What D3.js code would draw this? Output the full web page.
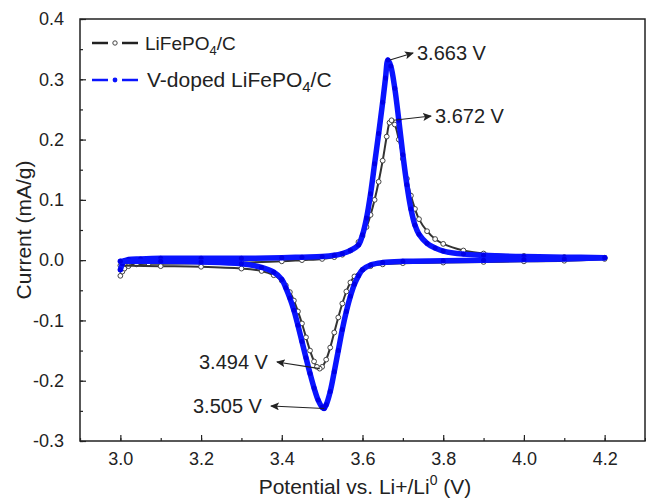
<!DOCTYPE html>
<html>
<head>
<meta charset="utf-8">
<script src="https://cdn.jsdelivr.net/npm/d3@7"></script>
<style>
body { margin: 0; background: #fff; }
text { font-family: "Liberation Sans", Arial, sans-serif; fill: #222; }
</style>
</head>
<body>
<script>
// potential (V), current (mA/g)
var blueAnodic = [[3.000,-0.016],[3.005,-0.006],[3.01,-0.001],[3.02,0.001],[3.05,0.002],[3.1,0.003],[3.2,0.003],[3.3,0.003],[3.4,0.004],[3.45,0.005],[3.5,0.006],[3.53,0.008],[3.55,0.011],[3.57,0.016],[3.59,0.025],[3.60,0.042],[3.61,0.07],[3.62,0.11],[3.63,0.16],[3.64,0.21],[3.65,0.262],[3.657,0.302],[3.663,0.332],[3.67,0.322],[3.68,0.285],[3.69,0.232],[3.70,0.175],[3.71,0.125],[3.72,0.085],[3.73,0.058],[3.74,0.043],[3.76,0.028],[3.78,0.02],[3.80,0.015],[3.85,0.01],[3.9,0.008],[4.0,0.006],[4.1,0.005],[4.2,0.004]];
var blueCathodic = [[4.2,0.004],[4.1,0.002],[4.0,0.001],[3.9,0.0],[3.8,-0.001],[3.7,-0.002],[3.65,-0.004],[3.62,-0.008],[3.60,-0.016],[3.59,-0.026],[3.58,-0.04],[3.57,-0.06],[3.56,-0.085],[3.55,-0.115],[3.54,-0.15],[3.53,-0.185],[3.52,-0.218],[3.51,-0.24],[3.505,-0.246],[3.50,-0.244],[3.49,-0.232],[3.48,-0.212],[3.47,-0.188],[3.46,-0.162],[3.45,-0.135],[3.44,-0.108],[3.43,-0.083],[3.42,-0.063],[3.41,-0.046],[3.40,-0.032],[3.38,-0.02],[3.35,-0.012],[3.3,-0.006],[3.2,-0.003],[3.1,-0.002],[3.0,-0.002]];
var blackAnodic = [[3.0,-0.026],[3.005,-0.019],[3.01,-0.014],[3.02,-0.01],[3.04,-0.007],[3.07,-0.006],[3.1,-0.006],[3.2,-0.005],[3.3,-0.004],[3.4,-0.002],[3.45,0.0],[3.5,0.002],[3.53,0.005],[3.55,0.009],[3.57,0.016],[3.59,0.03],[3.60,0.04],[3.61,0.055],[3.62,0.075],[3.63,0.1],[3.64,0.13],[3.65,0.165],[3.66,0.205],[3.667,0.228],[3.672,0.232],[3.68,0.225],[3.69,0.2],[3.70,0.168],[3.71,0.135],[3.72,0.107],[3.73,0.085],[3.74,0.068],[3.76,0.048],[3.78,0.035],[3.80,0.027],[3.85,0.016],[3.9,0.011],[4.0,0.007],[4.1,0.005],[4.2,0.004]];
var blackCathodic = [[4.2,0.002],[4.1,-0.001],[4.0,-0.002],[3.9,-0.003],[3.8,-0.004],[3.7,-0.005],[3.65,-0.007],[3.62,-0.01],[3.60,-0.016],[3.58,-0.027],[3.57,-0.037],[3.56,-0.052],[3.55,-0.072],[3.54,-0.095],[3.53,-0.12],[3.52,-0.145],[3.51,-0.165],[3.50,-0.177],[3.494,-0.18],[3.487,-0.177],[3.48,-0.168],[3.47,-0.15],[3.46,-0.128],[3.45,-0.105],[3.44,-0.085],[3.43,-0.067],[3.42,-0.053],[3.41,-0.042],[3.40,-0.034],[3.38,-0.025],[3.35,-0.018],[3.3,-0.014],[3.2,-0.011],[3.1,-0.01],[3.0,-0.009]];

var xTicks = [3.0, 3.2, 3.4, 3.6, 3.8, 4.0, 4.2];
var yTicks = [-0.3, -0.2, -0.1, 0.0, 0.1, 0.2, 0.3, 0.4];

// peak labels: [V, current, label, text x, text y]
var peaks = [[3.663, 0.332, "3.663 V", 417, 53], [3.672, 0.232, "3.672 V", 435, 116],
             [3.494, -0.18, "3.494 V", 199, 362], [3.505, -0.246, "3.505 V", 193, 406]];

var w = 646, h = 498;
var pL = 80, pR = 645, pT = 19, pB = 441;

var svg = d3.select("body").append("svg")
  .attr("width", w)
  .attr("height", h);

var x = d3.scaleLinear().domain([2.9, 4.3]).range([pL, pR]);
var y = d3.scaleLinear().domain([-0.3, 0.4]).range([pB, pT]);

//arrow head
svg.append("defs").append("marker")
  .attr("id", "arrow")
  .attr("refX", 8)
  .attr("refY", 4)
  .attr("markerWidth", 10)
  .attr("markerHeight", 8)
  .attr("markerUnits", "userSpaceOnUse")
  .attr("orient", "auto")
  .append("path")
  .attr("d", "M 0 0 L 9 4 L 0 8 L 2 4 Z")
  .style("fill", "#222");

var line = d3.line()
  .x(function(d) { return x(d[0]); })
  .y(function(d) { return y(d[1]); })
  .curve(d3.curveCatmullRom);

// black series
[blackAnodic, blackCathodic].forEach(function(s) {
  svg.append("path")
    .attr("d", line(s))
    .attr("fill", "none")
    .attr("stroke", "#333")
    .attr("stroke-width", 2);
  svg.selectAll(null).data(s).enter().append("circle")
    .attr("cx", function(d) { return x(d[0]); })
    .attr("cy", function(d) { return y(d[1]); })
    .attr("r", 2.4)
    .attr("fill", "#fff")
    .attr("stroke", "#444")
    .attr("stroke-width", 1);
});

// blue series
[blueAnodic, blueCathodic].forEach(function(s) {
  svg.append("path")
    .attr("d", line(s))
    .attr("fill", "none")
    .attr("stroke", "#0a14ff")
    .attr("stroke-width", 5.5)
    .attr("stroke-linecap", "round")
    .attr("stroke-linejoin", "round");
  svg.selectAll(null).data(s).enter().append("circle")
    .attr("cx", function(d) { return x(d[0]); })
    .attr("cy", function(d) { return y(d[1]); })
    .attr("r", 2.5)
    .attr("fill", "#0000e6");
});

// frame
svg.append("rect")
  .attr("x", pL).attr("y", pT)
  .attr("width", pR - pL).attr("height", pB - pT)
  .attr("fill", "none")
  .attr("stroke", "#222")
  .attr("stroke-width", 1.5);

var fmt = function(v) { return d3.format(".1f")(v).replace("\u2212", "-"); };

// axes
var xAxis = svg.append("g")
  .attr("transform", "translate(0," + pB + ")")
  .call(d3.axisBottom(x).tickValues(d3.range(2.9, 4.31, 0.1).map(function(v) { return +v.toFixed(1); }))
    .tickSize(-3).tickFormat(""));
xAxis.append("g").call(d3.axisBottom(x).tickValues(xTicks).tickSize(-6).tickPadding(11).tickFormat(fmt));

var yAxis = svg.append("g")
  .attr("transform", "translate(" + pL + ",0)")
  .call(d3.axisLeft(y).tickValues(d3.range(-0.3, 0.41, 0.05).map(function(v) { return +v.toFixed(2); }))
    .tickSize(-3).tickFormat(""));
yAxis.append("g").call(d3.axisLeft(y).tickValues(yTicks).tickSize(-6).tickPadding(16).tickFormat(fmt));
svg.selectAll(".domain").remove();

svg.selectAll(".tick line").attr("stroke", "#222").attr("stroke-width", 1.2);
svg.selectAll(".tick text")
  .style("font-family", "'Liberation Sans', Arial, sans-serif")
  .style("font-size", "18px")
  .attr("fill", "#222");

// axis titles
svg.append("text")
  .attr("transform", "translate(31," + (pT + pB) / 2 + ") rotate(-90)")
  .attr("text-anchor", "middle")
  .style("font-size", "21px")
  .text("Current (mA/g)");

var xt = svg.append("text")
  .attr("x", 365).attr("y", 494)
  .attr("text-anchor", "middle")
  .style("font-size", "21px");
xt.append("tspan").text("Potential vs. Li+/Li");
xt.append("tspan").attr("dy", -9).style("font-size", "14px").text("0");
xt.append("tspan").attr("dy", 9).text(" (V)");

// legend
var legend = [["LiFePO", "/C", "black", 43, 145, 19], ["V-doped LiFePO", "/C", "blue", 80, 147, 21]];
legend.forEach(function(l) {
  var col = l[2] === "black" ? "#222" : "#0a14ff";
  svg.append("line").attr("x1", 92).attr("x2", 108).attr("y1", l[3]).attr("y2", l[3])
    .attr("stroke", col).attr("stroke-width", 2.5);
  svg.append("line").attr("x1", 122).attr("x2", 138).attr("y1", l[3]).attr("y2", l[3])
    .attr("stroke", col).attr("stroke-width", 2.5);
  if (l[2] === "black") {
    svg.append("circle").attr("cx", 115).attr("cy", l[3]).attr("r", 2.2)
      .attr("fill", "#fff").attr("stroke", "#444").attr("stroke-width", 1);
  } else {
    svg.append("circle").attr("cx", 115).attr("cy", l[3]).attr("r", 2.4).attr("fill", "#0a14ff");
  }
  var t = svg.append("text").attr("x", l[4]).attr("y", l[3] + 7).style("font-size", l[5] + "px");
  t.append("tspan").text(l[0]);
  t.append("tspan").attr("dy", 5).style("font-size", (l[5] - 6) + "px").text("4");
  t.append("tspan").attr("dy", -5).text(l[1]);
});

// peak annotations
peaks.forEach(function(p) {
  var tx = p[3], ty = p[4];
  var leftSide = p[0] < 3.6;
  var ax = leftSide ? tx + 78 : tx - 4;
  svg.append("line")
    .attr("x1", x(p[0]) + (leftSide ? 0 : 2)).attr("y1", y(p[1]))
    .attr("x2", ax).attr("y2", ty)
    .attr("stroke", "#222").attr("stroke-width", 1.1)
    .attr("marker-end", "url(#arrow)");
  svg.append("text")
    .attr("x", tx).attr("y", ty + 7)
    .style("font-size", "20px")
    .text(p[2]);
});
</script>
</body>
</html>
